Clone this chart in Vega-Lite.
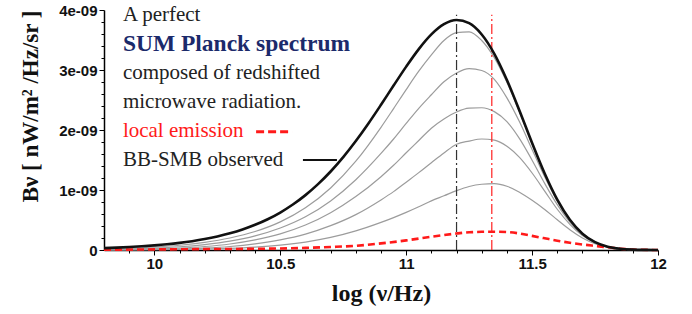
{
  "$schema": "https://vega.github.io/schema/vega-lite/v6.json",
  "width": 554,
  "height": 240,
  "autosize": {"type": "none"},
  "padding": {"left": 104, "top": 10, "right": 34, "bottom": 64},
  "background": "white",
  "config": {"view": {"stroke": null}},
  "resolve": {"axis": {"x": "independent", "y": "independent"}},
  "datasets": {
    "curves": [
      {"curve":"black","logv":9.8,"B":3.15e-11},{"curve":"black","logv":9.85,"B":3.93e-11},{"curve":"black","logv":9.9,"B":4.92e-11},{"curve":"black","logv":9.95,"B":6.14e-11},
      {"curve":"black","logv":10.0,"B":7.65e-11},{"curve":"black","logv":10.05,"B":9.52e-11},{"curve":"black","logv":10.1,"B":1.184e-10},{"curve":"black","logv":10.15,"B":1.47e-10},
      {"curve":"black","logv":10.2,"B":1.821e-10},{"curve":"black","logv":10.25,"B":2.252e-10},{"curve":"black","logv":10.3,"B":2.779e-10},{"curve":"black","logv":10.35,"B":3.419e-10},
      {"curve":"black","logv":10.4,"B":4.196e-10},{"curve":"black","logv":10.45,"B":5.131e-10},{"curve":"black","logv":10.5,"B":6.249e-10},{"curve":"black","logv":10.55,"B":7.58e-10},
      {"curve":"black","logv":10.6,"B":9.147e-10},{"curve":"black","logv":10.65,"B":1.0976e-9},{"curve":"black","logv":10.7,"B":1.3084e-9},{"curve":"black","logv":10.75,"B":1.5479e-9},
      {"curve":"black","logv":10.8,"B":1.8156e-9},{"curve":"black","logv":10.85,"B":2.1081e-9},{"curve":"black","logv":10.9,"B":2.42e-9},{"curve":"black","logv":10.95,"B":2.7409e-9},
      {"curve":"black","logv":11.0,"B":3.0564e-9},{"curve":"black","logv":11.05,"B":3.3487e-9},{"curve":"black","logv":11.1,"B":3.5932e-9},{"curve":"black","logv":11.15,"B":3.7633e-9},
      {"curve":"black","logv":11.2,"B":3.8329e-9},{"curve":"black","logv":11.25,"B":3.7806e-9},{"curve":"black","logv":11.3,"B":3.592e-9},{"curve":"black","logv":11.35,"B":3.2703e-9},
      {"curve":"black","logv":11.4,"B":2.8337e-9},{"curve":"black","logv":11.45,"B":2.3214e-9},{"curve":"black","logv":11.5,"B":1.7838e-9},{"curve":"black","logv":11.55,"B":1.2748e-9},
      {"curve":"black","logv":11.6,"B":8.391e-10},{"curve":"black","logv":11.65,"B":5.036e-10},{"curve":"black","logv":11.7,"B":2.724e-10},{"curve":"black","logv":11.75,"B":1.31e-10},
      {"curve":"black","logv":11.8,"B":5.53e-11},{"curve":"black","logv":11.85,"B":2.01e-11},{"curve":"black","logv":11.9,"B":6.2e-12},{"curve":"black","logv":11.95,"B":1.6e-12},{"curve":"black","logv":12.0,"B":3e-13},

      {"curve":"g1","logv":9.8,"B":1.9e-11},{"curve":"g1","logv":9.9,"B":3.0e-11},{"curve":"g1","logv":10.0,"B":5.0e-11},{"curve":"g1","logv":10.1,"B":7.9e-11},
      {"curve":"g1","logv":10.2,"B":1.27e-10},{"curve":"g1","logv":10.3,"B":2.0e-10},{"curve":"g1","logv":10.4,"B":3.08e-10},{"curve":"g1","logv":10.5,"B":4.69e-10},
      {"curve":"g1","logv":10.6,"B":7.04e-10},{"curve":"g1","logv":10.7,"B":1.034e-9},{"curve":"g1","logv":10.8,"B":1.48e-9},{"curve":"g1","logv":10.9,"B":2.045e-9},
      {"curve":"g1","logv":10.95,"B":2.357e-9},{"curve":"g1","logv":11.0,"B":2.674e-9},{"curve":"g1","logv":11.05,"B":2.98e-9},{"curve":"g1","logv":11.1,"B":3.252e-9},
      {"curve":"g1","logv":11.15,"B":3.492e-9},{"curve":"g1","logv":11.2,"B":3.622e-9},{"curve":"g1","logv":11.25,"B":3.637e-9},{"curve":"g1","logv":11.3,"B":3.491e-9},
      {"curve":"g1","logv":11.35,"B":3.205e-9},{"curve":"g1","logv":11.4,"B":2.794e-9},{"curve":"g1","logv":11.45,"B":2.298e-9},{"curve":"g1","logv":11.5,"B":1.771e-9},
      {"curve":"g1","logv":11.55,"B":1.27e-9},{"curve":"g1","logv":11.6,"B":8.37e-10},{"curve":"g1","logv":11.65,"B":5.03e-10},{"curve":"g1","logv":11.7,"B":2.72e-10},
      {"curve":"g1","logv":11.75,"B":1.31e-10},{"curve":"g1","logv":11.8,"B":5.5e-11},{"curve":"g1","logv":11.9,"B":6e-12},{"curve":"g1","logv":12.0,"B":3e-13},

      {"curve":"g2","logv":9.8,"B":1.1e-11},{"curve":"g2","logv":9.9,"B":1.9e-11},{"curve":"g2","logv":10.0,"B":3.2e-11},{"curve":"g2","logv":10.1,"B":5.4e-11},
      {"curve":"g2","logv":10.2,"B":9.1e-11},{"curve":"g2","logv":10.3,"B":1.47e-10},{"curve":"g2","logv":10.4,"B":2.35e-10},{"curve":"g2","logv":10.5,"B":3.66e-10},
      {"curve":"g2","logv":10.6,"B":5.53e-10},{"curve":"g2","logv":10.7,"B":8.18e-10},{"curve":"g2","logv":10.8,"B":1.171e-9},{"curve":"g2","logv":10.9,"B":1.609e-9},
      {"curve":"g2","logv":10.95,"B":1.85e-9},{"curve":"g2","logv":11.0,"B":2.109e-9},{"curve":"g2","logv":11.05,"B":2.361e-9},{"curve":"g2","logv":11.1,"B":2.587e-9},
      {"curve":"g2","logv":11.15,"B":2.804e-9},{"curve":"g2","logv":11.2,"B":2.951e-9},{"curve":"g2","logv":11.25,"B":3.024e-9},{"curve":"g2","logv":11.3,"B":2.992e-9},
      {"curve":"g2","logv":11.35,"B":2.845e-9},{"curve":"g2","logv":11.4,"B":2.536e-9},{"curve":"g2","logv":11.45,"B":2.136e-9},{"curve":"g2","logv":11.5,"B":1.676e-9},
      {"curve":"g2","logv":11.55,"B":1.219e-9},{"curve":"g2","logv":11.6,"B":8.13e-10},{"curve":"g2","logv":11.65,"B":4.94e-10},{"curve":"g2","logv":11.7,"B":2.7e-10},
      {"curve":"g2","logv":11.75,"B":1.3e-10},{"curve":"g2","logv":11.8,"B":5.5e-11},{"curve":"g2","logv":11.9,"B":6e-12},{"curve":"g2","logv":12.0,"B":3e-13},

      {"curve":"g3","logv":9.8,"B":6.3e-12},{"curve":"g3","logv":9.9,"B":1.08e-11},{"curve":"g3","logv":10.0,"B":1.91e-11},{"curve":"g3","logv":10.1,"B":3.32e-11},
      {"curve":"g3","logv":10.2,"B":5.83e-11},{"curve":"g3","logv":10.3,"B":1.0e-10},{"curve":"g3","logv":10.4,"B":1.68e-10},{"curve":"g3","logv":10.5,"B":2.69e-10},
      {"curve":"g3","logv":10.6,"B":4.16e-10},{"curve":"g3","logv":10.7,"B":6.21e-10},{"curve":"g3","logv":10.8,"B":8.9e-10},{"curve":"g3","logv":10.9,"B":1.222e-9},
      {"curve":"g3","logv":10.95,"B":1.412e-9},{"curve":"g3","logv":11.0,"B":1.62e-9},{"curve":"g3","logv":11.05,"B":1.825e-9},{"curve":"g3","logv":11.1,"B":2.03e-9},
      {"curve":"g3","logv":11.15,"B":2.183e-9},{"curve":"g3","logv":11.2,"B":2.3e-9},{"curve":"g3","logv":11.25,"B":2.363e-9},{"curve":"g3","logv":11.3,"B":2.371e-9},
      {"curve":"g3","logv":11.35,"B":2.306e-9},{"curve":"g3","logv":11.4,"B":2.139e-9},{"curve":"g3","logv":11.45,"B":1.857e-9},{"curve":"g3","logv":11.5,"B":1.497e-9},
      {"curve":"g3","logv":11.55,"B":1.11e-9},{"curve":"g3","logv":11.6,"B":7.55e-10},{"curve":"g3","logv":11.65,"B":4.66e-10},{"curve":"g3","logv":11.7,"B":2.57e-10},
      {"curve":"g3","logv":11.75,"B":1.26e-10},{"curve":"g3","logv":11.8,"B":5.4e-11},{"curve":"g3","logv":11.9,"B":6e-12},{"curve":"g3","logv":12.0,"B":3e-13},

      {"curve":"g4","logv":9.8,"B":3.2e-12},{"curve":"g4","logv":9.9,"B":5.4e-12},{"curve":"g4","logv":10.0,"B":9.9e-12},{"curve":"g4","logv":10.1,"B":1.78e-11},
      {"curve":"g4","logv":10.2,"B":3.28e-11},{"curve":"g4","logv":10.3,"B":5.84e-11},{"curve":"g4","logv":10.4,"B":1.028e-10},{"curve":"g4","logv":10.5,"B":1.687e-10},
      {"curve":"g4","logv":10.6,"B":2.653e-10},{"curve":"g4","logv":10.7,"B":4.056e-10},{"curve":"g4","logv":10.8,"B":5.901e-10},{"curve":"g4","logv":10.9,"B":8.349e-10},
      {"curve":"g4","logv":10.95,"B":9.73e-10},{"curve":"g4","logv":11.0,"B":1.1309e-9},{"curve":"g4","logv":11.05,"B":1.2892e-9},{"curve":"g4","logv":11.1,"B":1.4552e-9},
      {"curve":"g4","logv":11.15,"B":1.6182e-9},{"curve":"g4","logv":11.2,"B":1.7631e-9},{"curve":"g4","logv":11.25,"B":1.815e-9},{"curve":"g4","logv":11.3,"B":1.85e-9},
      {"curve":"g4","logv":11.35,"B":1.831e-9},{"curve":"g4","logv":11.4,"B":1.7286e-9},{"curve":"g4","logv":11.45,"B":1.5437e-9},{"curve":"g4","logv":11.5,"B":1.2835e-9},
      {"curve":"g4","logv":11.55,"B":9.826e-10},{"curve":"g4","logv":11.6,"B":6.793e-10},{"curve":"g4","logv":11.65,"B":4.281e-10},{"curve":"g4","logv":11.7,"B":2.397e-10},
      {"curve":"g4","logv":11.75,"B":1.191e-10},{"curve":"g4","logv":11.8,"B":5.19e-11},{"curve":"g4","logv":11.9,"B":6e-12},{"curve":"g4","logv":12.0,"B":3e-13},

      {"curve":"g5","logv":9.8,"B":1.3e-12},{"curve":"g5","logv":9.9,"B":2.5e-12},{"curve":"g5","logv":10.0,"B":4.6e-12},{"curve":"g5","logv":10.1,"B":8.3e-12},
      {"curve":"g5","logv":10.2,"B":1.55e-11},{"curve":"g5","logv":10.3,"B":2.78e-11},{"curve":"g5","logv":10.4,"B":4.83e-11},{"curve":"g5","logv":10.5,"B":8.12e-11},
      {"curve":"g5","logv":10.6,"B":1.326e-10},{"curve":"g5","logv":10.7,"B":2.093e-10},{"curve":"g5","logv":10.8,"B":3.177e-10},{"curve":"g5","logv":10.9,"B":4.598e-10},
      {"curve":"g5","logv":10.95,"B":5.4e-10},{"curve":"g5","logv":11.0,"B":6.266e-10},{"curve":"g5","logv":11.05,"B":7.2e-10},{"curve":"g5","logv":11.1,"B":8.192e-10},
      {"curve":"g5","logv":11.15,"B":9.032e-10},{"curve":"g5","logv":11.2,"B":9.889e-10},{"curve":"g5","logv":11.25,"B":1.0586e-9},{"curve":"g5","logv":11.3,"B":1.0956e-9},
      {"curve":"g5","logv":11.35,"B":1.1054e-9},{"curve":"g5","logv":11.4,"B":1.0626e-9},{"curve":"g5","logv":11.45,"B":9.634e-10},{"curve":"g5","logv":11.5,"B":8.29e-10},
      {"curve":"g5","logv":11.55,"B":6.763e-10},{"curve":"g5","logv":11.6,"B":5.032e-10},{"curve":"g5","logv":11.65,"B":3.374e-10},{"curve":"g5","logv":11.7,"B":2.002e-10},
      {"curve":"g5","logv":11.75,"B":1.047e-10},{"curve":"g5","logv":11.8,"B":4.75e-11},{"curve":"g5","logv":11.85,"B":1.83e-11},{"curve":"g5","logv":11.9,"B":5.9e-12},{"curve":"g5","logv":12.0,"B":3e-13},

      {"curve":"red","logv":9.8,"B":5e-12},{"curve":"red","logv":9.9,"B":7e-12},{"curve":"red","logv":10.0,"B":1.0e-11},{"curve":"red","logv":10.1,"B":1.2e-11},
      {"curve":"red","logv":10.2,"B":1.5e-11},{"curve":"red","logv":10.3,"B":1.7e-11},{"curve":"red","logv":10.4,"B":2.0e-11},{"curve":"red","logv":10.5,"B":2.5e-11},
      {"curve":"red","logv":10.6,"B":3.5e-11},{"curve":"red","logv":10.7,"B":5.0e-11},{"curve":"red","logv":10.8,"B":7.0e-11},{"curve":"red","logv":10.9,"B":1.1e-10},
      {"curve":"red","logv":11.0,"B":1.6e-10},{"curve":"red","logv":11.1,"B":2.2e-10},{"curve":"red","logv":11.2,"B":2.75e-10},{"curve":"red","logv":11.25,"B":2.95e-10},
      {"curve":"red","logv":11.3,"B":3.03e-10},{"curve":"red","logv":11.35,"B":3.05e-10},{"curve":"red","logv":11.4,"B":3.0e-10},{"curve":"red","logv":11.45,"B":2.75e-10},
      {"curve":"red","logv":11.5,"B":2.35e-10},{"curve":"red","logv":11.55,"B":1.95e-10},{"curve":"red","logv":11.6,"B":1.55e-10},{"curve":"red","logv":11.65,"B":1.2e-10},
      {"curve":"red","logv":11.7,"B":9.2e-11},{"curve":"red","logv":11.75,"B":6.8e-11},{"curve":"red","logv":11.8,"B":4.5e-11},{"curve":"red","logv":11.85,"B":2.2e-11},
      {"curve":"red","logv":11.9,"B":7e-12},{"curve":"red","logv":12.0,"B":0}
    ],
    "vlines": [
      {"kind":"black","logv":11.2,"lo":0,"hi":3.92e-9},
      {"kind":"red","logv":11.34,"lo":0,"hi":3.92e-9}
    ],
    "notes": [
      {"kind":"plain","logv":9.875,"B":3.917e-9,"text":"A perfect"},
      {"kind":"bold","logv":9.875,"B":3.433e-9,"text":"SUM Planck spectrum"},
      {"kind":"plain","logv":9.875,"B":2.95e-9,"text":"composed of redshifted"},
      {"kind":"plain","logv":9.875,"B":2.467e-9,"text":"microwave radiation."},
      {"kind":"red","logv":9.875,"B":1.983e-9,"text":"local emission"},
      {"kind":"plain","logv":9.875,"B":1.5e-9,"text":"BB-SMB observed"}
    ],
    "keys": [
      {"kind":"red","x1":10.404,"x2":10.547,"B":1.97e-9},
      {"kind":"black","x1":10.59,"x2":10.725,"B":1.5e-9}
    ]
  },
  "layer": [
    {
      "data": {"name": "curves"},
      "transform": [{"filter": "datum.curve != 'black' && datum.curve != 'red'"}],
      "mark": {"type": "line", "interpolate": "monotone", "color": "#9c9c9c", "strokeWidth": 1.2},
      "encoding": {
        "x": {"field": "logv", "type": "quantitative",
          "scale": {"domain": [9.8, 12], "nice": false, "zero": false},
          "axis": {
            "orient": "bottom",
            "values": [10, 10.5, 11, 11.5, 12],
            "labelExpr": "'' + datum.value",
            "tickSize": 5, "tickColor": "black", "tickWidth": 1, "domainColor": "black", "domainWidth": 1.5,
            "grid": false, "labelFont": "Liberation Sans", "labelFontWeight": "bold", "labelFontSize": 15,
            "labelColor": "#111", "labelPadding": 1, "labelFlush": false, "labelOverlap": false,
            "title": "log (ν/Hz)", "titleFont": "Liberation Serif", "titleFontWeight": "bold", "titleFontSize": 24,
            "titleColor": "#111", "titlePadding": 10
          }},
        "y": {"field": "B", "type": "quantitative",
          "scale": {"domain": [0, 4e-9], "nice": false},
          "axis": {
            "orient": "left",
            "values": [0, 1e-9, 2e-9, 3e-9, 4e-9],
            "labelExpr": "datum.value == 0 ? '0' : round(datum.value*1e9) + 'e-09'",
            "tickSize": 5, "tickColor": "black", "tickWidth": 1, "domainColor": "black", "domainWidth": 1.5,
            "grid": false, "labelFont": "Liberation Sans", "labelFontWeight": "bold", "labelFontSize": 15,
            "labelColor": "#111", "labelPadding": 2, "labelFlush": false, "labelOverlap": false,
            "title": "Bν  [ nW/m² /Hz/sr ]", "titleFont": "Liberation Serif", "titleFontWeight": "bold", "titleFontSize": 23,
            "titleColor": "#111", "titlePadding": 16, "titleAnchor": "end"
          }},
        "detail": {"field": "curve"}
      }
    },
    {
      "data": {"name": "curves"},
      "transform": [{"filter": "datum.curve == 'red'"}],
      "mark": {"type": "line", "interpolate": "monotone", "color": "#ff1a1a", "strokeWidth": 2.6, "strokeDash": [7, 4]},
      "encoding": {
        "x": {"field": "logv", "type": "quantitative",
          "axis": {"orient": "bottom", "values": [9.9,10.1,10.2,10.3,10.4,10.6,10.7,10.8,10.9,11.1,11.2,11.3,11.4,11.6,11.7,11.8,11.9],
            "labels": false, "domain": false, "grid": false, "title": null, "tickSize": 3, "tickColor": "black", "tickWidth": 1}},
        "y": {"field": "B", "type": "quantitative",
          "axis": {"orient": "left", "values": [2e-10,4e-10,6e-10,8e-10,1.2e-9,1.4e-9,1.6e-9,1.8e-9,2.2e-9,2.4e-9,2.6e-9,2.8e-9,3.2e-9,3.4e-9,3.6e-9,3.8e-9],
            "labels": false, "domain": false, "grid": false, "title": null, "tickSize": 3, "tickColor": "black", "tickWidth": 1}}
      }
    },
    {
      "data": {"name": "vlines"},
      "mark": {"type": "rule", "strokeWidth": 1.2, "strokeDash": [10, 3, 2, 3]},
      "encoding": {
        "x": {"field": "logv", "type": "quantitative", "axis": null},
        "y": {"field": "lo", "type": "quantitative", "axis": null},
        "y2": {"field": "hi"},
        "color": {"field": "kind", "type": "nominal", "scale": {"domain": ["black", "red"], "range": ["#333333", "#ff2020"]}, "legend": null}
      }
    },
    {
      "data": {"name": "curves"},
      "transform": [{"filter": "datum.curve == 'black'"}],
      "mark": {"type": "line", "interpolate": "monotone", "color": "#111111", "strokeWidth": 2.6},
      "encoding": {"x": {"field": "logv", "type": "quantitative", "axis": null}, "y": {"field": "B", "type": "quantitative", "axis": null}}
    },
    {
      "data": {"name": "keys"},
      "transform": [{"filter": "datum.kind == 'red'"}],
      "mark": {"type": "rule", "color": "#ff1a1a", "strokeWidth": 3, "strokeDash": [8, 4]},
      "encoding": {"x": {"field": "x1", "type": "quantitative", "axis": null}, "x2": {"field": "x2"}, "y": {"field": "B", "type": "quantitative", "axis": null}}
    },
    {
      "data": {"name": "keys"},
      "transform": [{"filter": "datum.kind == 'black'"}],
      "mark": {"type": "rule", "color": "#111111", "strokeWidth": 2},
      "encoding": {"x": {"field": "x1", "type": "quantitative", "axis": null}, "x2": {"field": "x2"}, "y": {"field": "B", "type": "quantitative", "axis": null}}
    },
    {
      "data": {"name": "notes"},
      "transform": [{"filter": "datum.kind == 'plain'"}],
      "mark": {"type": "text", "align": "left", "baseline": "middle", "font": "Liberation Serif", "fontSize": 21, "color": "#222222"},
      "encoding": {"x": {"field": "logv", "type": "quantitative", "axis": null}, "y": {"field": "B", "type": "quantitative", "axis": null}, "text": {"field": "text"}}
    },
    {
      "data": {"name": "notes"},
      "transform": [{"filter": "datum.kind == 'bold'"}],
      "mark": {"type": "text", "align": "left", "baseline": "middle", "font": "Liberation Serif", "fontSize": 23.5, "fontWeight": "bold", "color": "#1b2a6b"},
      "encoding": {"x": {"field": "logv", "type": "quantitative", "axis": null}, "y": {"field": "B", "type": "quantitative", "axis": null}, "text": {"field": "text"}}
    },
    {
      "data": {"name": "notes"},
      "transform": [{"filter": "datum.kind == 'red'"}],
      "mark": {"type": "text", "align": "left", "baseline": "middle", "font": "Liberation Serif", "fontSize": 21, "color": "#ff1a1a"},
      "encoding": {"x": {"field": "logv", "type": "quantitative", "axis": null}, "y": {"field": "B", "type": "quantitative", "axis": null}, "text": {"field": "text"}}
    }
  ]
}
